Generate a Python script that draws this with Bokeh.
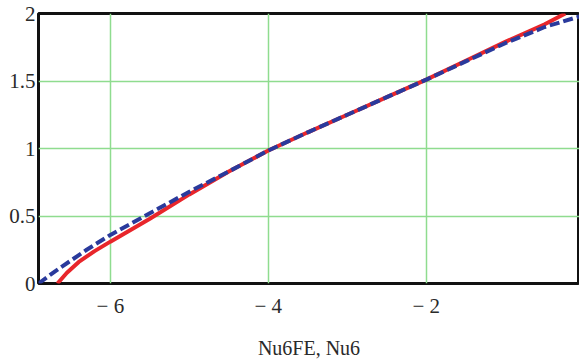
from bokeh.plotting import figure
from bokeh.models import Range1d, FixedTicker
from bokeh.embed import file_html
from bokeh.resources import INLINE

# Red solid curve (Nu6FE)
red_x = [-6.67, -6.55, -6.4, -6.2, -6.0, -5.5, -5.0, -4.5, -4.0, -3.5, -3.0, -2.5, -2.0, -1.5, -1.0, -0.5, -0.24]
red_y = [0.0, 0.08, 0.16, 0.24, 0.31, 0.48, 0.66, 0.83, 0.985, 1.12, 1.25, 1.38, 1.51, 1.65, 1.79, 1.92, 2.0]

# Blue dashed curve (Nu6)
blue_x = [-6.91, -6.7, -6.5, -6.3, -6.0, -5.5, -5.0, -4.5, -4.0, -3.5, -3.0, -2.5, -2.0, -1.5, -1.0, -0.5, -0.05]
blue_y = [0.0, 0.09, 0.17, 0.25, 0.36, 0.52, 0.68, 0.83, 0.985, 1.12, 1.25, 1.38, 1.51, 1.645, 1.78, 1.90, 1.98]

x_ticks = [-6, -4, -2]
x_tick_labels = {-6: "\u2212 6", -4: "\u2212 4", -2: "\u2212 2"}
y_ticks = [0, 0.5, 1, 1.5, 2]
x_label = "Nu6FE, Nu6"

SERIF = "serif"

p = figure(width=579, height=362, output_backend="svg", toolbar_location=None,
           x_range=Range1d(-6.91, -0.06), y_range=Range1d(0, 2),
           min_border_left=38, min_border_right=0, min_border_top=13, min_border_bottom=79)
p.background_fill_color = "white"
p.border_fill_color = "white"
p.outline_line_color = "#111111"
p.outline_line_width = 3

p.xaxis.ticker = FixedTicker(ticks=x_ticks)
p.xaxis.major_label_overrides = x_tick_labels
p.yaxis.ticker = FixedTicker(ticks=y_ticks)
p.yaxis.major_label_overrides = {0: "0", 0.5: "0.5", 1: "1", 1.5: "1.5", 2: "2"}

for ax in (p.xaxis, p.yaxis):
    ax.axis_line_color = None
    ax.major_tick_line_color = None
    ax.minor_tick_line_color = None
    ax.major_tick_out = 0
    ax.major_tick_in = 0
    ax.major_label_text_font = SERIF
    ax.major_label_text_font_size = "21px"
    ax.major_label_text_color = "#2a2a2a"

p.xaxis.major_label_standoff = 10
p.yaxis.major_label_standoff = 3
p.xaxis.axis_label = x_label
p.xaxis.axis_label_text_font = SERIF
p.xaxis.axis_label_text_font_size = "20px"
p.xaxis.axis_label_text_font_style = "normal"
p.xaxis.axis_label_text_color = "#2a2a2a"
p.xaxis.axis_label_standoff = 16

p.xgrid.ticker = FixedTicker(ticks=x_ticks)
p.ygrid.ticker = FixedTicker(ticks=y_ticks)
p.grid.grid_line_color = "#8fdc8f"
p.grid.grid_line_width = 1.5

p.line(red_x, red_y, line_color="#e8262b", line_width=4)
p.line(blue_x, blue_y, line_color="#2a3a9c", line_width=4, line_dash="10 4")

open("out.html", "w").write(file_html(p, INLINE))
